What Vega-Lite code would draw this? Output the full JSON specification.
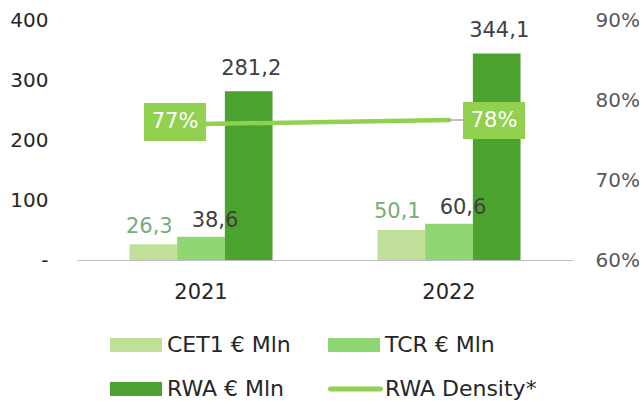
{
  "$schema": "https://vega.github.io/schema/vega-lite/v6.json",
  "width": 496,
  "height": 240,
  "autosize": {"type": "none"},
  "padding": {"left": 77, "top": 20, "right": 71, "bottom": 141},
  "background": "white",
  "config": {
    "view": {"stroke": null},
    "font": "DejaVu Sans",
    "locale": {
      "number": {"decimal": ",", "thousands": ".", "grouping": [3], "currency": ["€", ""]}
    }
  },
  "datasets": {
    "bars": [
      {"year": "2021", "series": "CET1 € Mln", "value": 26.3},
      {"year": "2021", "series": "TCR € Mln", "value": 38.6},
      {"year": "2021", "series": "RWA € Mln", "value": 281.2},
      {"year": "2022", "series": "CET1 € Mln", "value": 50.1},
      {"year": "2022", "series": "TCR € Mln", "value": 60.6},
      {"year": "2022", "series": "RWA € Mln", "value": 344.1}
    ],
    "density": [
      {"year": "2021", "density": 0.770},
      {"year": "2022", "density": 0.775}
    ]
  },
  "layer": [
    {
      "data": {"name": "bars"},
      "encoding": {
        "x": {
          "field": "year", "type": "nominal",
          "scale": {"type": "band", "paddingInner": 0.423, "paddingOuter": 0.2115},
          "axis": {
            "title": null, "labelAngle": 0, "ticks": false, "domainColor": "#BFBFBF", "domainWidth": 1,
            "labelFontSize": 21, "labelColor": "#262626", "labelPadding": 21
          }
        },
        "xOffset": {
          "field": "series", "type": "nominal",
          "scale": {"domain": ["CET1 € Mln", "TCR € Mln", "RWA € Mln"], "paddingInner": 0, "paddingOuter": 0}
        },
        "y": {
          "field": "value", "type": "quantitative",
          "scale": {"domain": [0, 400], "nice": false},
          "axis": {
            "title": null, "domain": false, "ticks": false, "grid": false,
            "values": [0, 100, 200, 300, 400],
            "labelExpr": "datum.value == 0 ? '-' : datum.label",
            "labelFontSize": 20, "labelColor": "#262626", "labelPadding": 29
          }
        }
      },
      "layer": [
        {
          "mark": {"type": "bar"},
          "encoding": {
            "color": {
              "field": "series", "type": "nominal",
              "scale": {
                "domain": ["CET1 € Mln", "TCR € Mln", "RWA € Mln", "RWA Density*"],
                "range": ["#C0E09A", "#8ED672", "#4CA22F", "#92D050"]
              },
              "legend": {
                "orient": "none", "legendX": 22, "legendY": 314,
                "direction": "horizontal", "columns": 2, "title": null,
                "symbolType": "M0,-7H52V7H0Z", "symbolSize": 4, "symbolStrokeWidth": 0,
                "labelFontSize": 22, "labelColor": "#262626", "labelOffset": 46,
                "columnPadding": 26, "rowPadding": 22, "padding": 0,
                "encoding": {
                  "symbols": {
                    "shape": {"value": {"signal": "datum.value == 'RWA Density*' ? 'M2.5,-2.5H52.5A2.5,2.5 0 0 1 52.5,2.5H2.5A2.5,2.5 0 0 1 2.5,-2.5Z' : 'M0,-7H52V7H0Z'"}}
                  }
                }
              }
            }
          }
        },
        {
          "transform": [{"filter": "datum.series == 'CET1 € Mln'"}],
          "mark": {"type": "text", "fontSize": 21, "color": "#76AD76", "baseline": "alphabetic", "dy": -11.5, "dx": -4},
          "encoding": {"text": {"field": "value", "type": "quantitative", "format": ".1f"}}
        },
        {
          "transform": [{"filter": "datum.series == 'TCR € Mln'"}],
          "mark": {"type": "text", "fontSize": 21, "color": "#404040", "baseline": "alphabetic", "dy": -10, "dx": 14},
          "encoding": {"text": {"field": "value", "type": "quantitative", "format": ".1f"}}
        },
        {
          "transform": [{"filter": "datum.series == 'RWA € Mln'"}],
          "mark": {"type": "text", "fontSize": 21, "color": "#404040", "baseline": "alphabetic", "dy": -16.5, "dx": 2.5},
          "encoding": {"text": {"field": "value", "type": "quantitative", "format": ".1f"}}
        }
      ]
    },
    {
      "data": {"name": "density"},
      "encoding": {
        "x": {
          "field": "year", "type": "nominal",
          "scale": {"type": "band", "paddingInner": 0.423, "paddingOuter": 0.2115},
          "axis": {
            "title": null, "labelAngle": 0, "ticks": false, "domainColor": "#BFBFBF", "domainWidth": 1,
            "labelFontSize": 21, "labelColor": "#262626", "labelPadding": 21
          }
        },
        "y": {
          "field": "density", "type": "quantitative",
          "scale": {"domain": [0.6, 0.9], "nice": false, "zero": false},
          "axis": {
            "orient": "right", "title": null, "domain": false, "ticks": false, "grid": false,
            "values": [0.6, 0.7, 0.8, 0.9], "format": ".0%",
            "labelFontSize": 20, "labelColor": "#595959", "labelPadding": 22
          }
        }
      },
      "layer": [
        {"mark": {"type": "line", "color": "#92D050", "strokeWidth": 4.5, "strokeCap": "round"}},
        {
          "transform": [{"filter": "datum.year == '2022'"}],
          "mark": {"type": "point", "shape": "M0,-0.75H14V0.75H0Z", "size": 4, "filled": true, "color": "#A6A6A6", "opacity": 1, "strokeWidth": 0}
        },
        {
          "transform": [{"filter": "datum.year == '2021'"}],
          "mark": {"type": "point", "shape": "M-57,-21H5V17H-57Z", "size": 4, "filled": true, "color": "#92D050", "opacity": 1, "strokeWidth": 0}
        },
        {
          "transform": [{"filter": "datum.year == '2022'"}],
          "mark": {"type": "point", "shape": "M14,-18H76V19H14Z", "size": 4, "filled": true, "color": "#92D050", "opacity": 1, "strokeWidth": 0}
        },
        {
          "transform": [{"filter": "datum.year == '2021'"}],
          "mark": {"type": "text", "fontSize": 21, "color": "white", "baseline": "middle", "dx": -26, "dy": -2},
          "encoding": {"text": {"field": "density", "type": "quantitative", "format": ".0%"}}
        },
        {
          "transform": [{"filter": "datum.year == '2022'"}],
          "mark": {"type": "text", "fontSize": 21, "color": "white", "baseline": "middle", "dx": 45, "dy": 0.5},
          "encoding": {"text": {"field": "density", "type": "quantitative", "format": ".0%"}}
        }
      ]
    }
  ],
  "resolve": {"scale": {"y": "independent"}}
}
